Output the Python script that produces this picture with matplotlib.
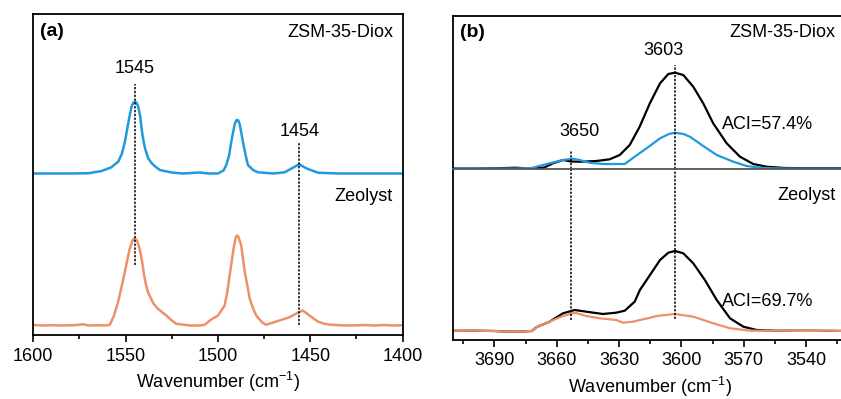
import matplotlib
matplotlib.use('Agg')
import matplotlib.pyplot as plt
from matplotlib.ticker import MultipleLocator

plt.rcParams['font.family'] = ['Liberation Sans', 'DejaVu Sans']
plt.rcParams['mathtext.fontset'] = 'custom'
plt.rcParams['mathtext.rm'] = 'Liberation Sans'

# ---- panel (a): pyridine IR, 1600-1400 cm-1
wn_a_blue = [1600, 1580, 1570, 1563, 1558, 1554, 1552, 1550.4, 1548.1, 1546.8, 1545.8, 1545,
             1544.2, 1543.2, 1542.2, 1540.9, 1539.5, 1537.8, 1536, 1534, 1531.5, 1525, 1519,
             1510, 1505, 1500, 1497, 1495.5, 1494, 1492.8, 1491, 1490.2, 1489.6, 1489,
             1488.2, 1486.5, 1485, 1483.8, 1481, 1478.4, 1470, 1463.9, 1459.4, 1456,
             1452.2, 1445.9, 1435, 1400]
ab_a_blue = [0, 0, 0.003, 0.025, 0.06, 0.118, 0.2, 0.318, 0.552, 0.67, 0.71, 0.718,
             0.71, 0.67, 0.58, 0.385, 0.25, 0.152, 0.105, 0.07, 0.035, 0.01, 0,
             0.01, 0, 0, 0.03, 0.085, 0.18, 0.318, 0.49, 0.53, 0.535, 0.53,
             0.49, 0.318, 0.18, 0.085, 0.035, 0.012, 0, 0.012, 0.058, 0.092,
             0.052, 0.008, 0, 0]

wn_a_orange = [1600, 1595, 1590, 1585, 1578, 1573, 1570, 1565, 1561, 1558.6, 1556.5, 1554.1,
               1552.3, 1550.5, 1547.8, 1546.3, 1545.1, 1543.9, 1542.4, 1541, 1540, 1539,
               1537.9, 1535, 1532.5, 1528, 1525, 1522.6, 1515, 1509.9, 1507.2, 1504.5, 1500,
               1496.4, 1495, 1493.7, 1491.3, 1490.3, 1489.6, 1488.9, 1487.4, 1485.5, 1484,
               1482.8, 1481, 1479.3, 1476, 1473.9, 1468.5, 1465, 1461.3, 1456.8, 1454.1,
               1450.5, 1446, 1442, 1438.7, 1430, 1420, 1415, 1410, 1405, 1400]
ab_a_orange = [0.005, 0, 0.003, 0, 0.003, 0.012, 0, 0.003, 0, 0.007, 0.09, 0.233,
               0.38, 0.533, 0.767, 0.85, 0.873, 0.85, 0.767, 0.63, 0.50, 0.41,
               0.333, 0.22, 0.167, 0.10, 0.05, 0.017, 0, 0, 0.007, 0.05, 0.10,
               0.20, 0.33, 0.50, 0.80, 0.885, 0.90, 0.885, 0.80, 0.533, 0.39,
               0.267, 0.17, 0.10, 0.03, 0.007, 0.04, 0.06, 0.083, 0.127, 0.15,
               0.10, 0.04, 0.015, 0.007, 0, 0.004, 0, 0.005, 0, 0.003]

offset_a_blue = 1.615
offset_a_orange = 0.095
peaks_a = [1545, 1456]
peak_labels_a = ['1545', '1454']

# ---- panel (b): OH region, 3710-3520 cm-1
wn_b_top_black = [3710, 3700, 3690, 3680, 3675, 3670, 3666, 3661.9, 3657, 3653, 3649, 3641,
                  3634.6, 3629.7, 3624.9, 3620.1, 3615.2, 3610.3, 3606.3, 3603.1, 3599.1,
                  3594.3, 3589.5, 3584.7, 3578.2, 3571.8, 3565.4, 3559, 3550, 3540, 3520]
ab_b_top_black = [0.005, 0.005, 0.007, 0.013, 0.008, 0.008, 0.015, 0.057, 0.09, 0.075, 0.073, 0.08,
                  0.097, 0.14, 0.24, 0.423, 0.657, 0.857, 0.95, 0.963, 0.94,
                  0.823, 0.657, 0.457, 0.257, 0.123, 0.05, 0.023, 0.01, 0.008, 0.008]

wn_b_top_blue = [3710, 3680, 3672, 3669.9, 3663.5, 3657, 3652.2, 3649, 3644.2, 3637.8, 3631.4,
                 3627.3, 3622.5, 3616.1, 3610.3, 3606, 3603.1, 3599, 3595.9, 3589.5, 3583,
                 3575, 3568.6, 3560.6, 3550, 3520]
ab_b_top_blue = [0.005, 0.005, 0.01, 0.023, 0.057, 0.09, 0.103, 0.09, 0.063, 0.05, 0.05,
                 0.05, 0.123, 0.217, 0.307, 0.35, 0.363, 0.35, 0.323, 0.23, 0.14,
                 0.073, 0.03, 0.01, 0.005, 0.005]

wn_b_bot_black = [3710, 3700, 3690, 3685, 3678, 3672, 3669.9, 3663.5, 3657, 3651.4, 3645.8,
                  3637.8, 3631.4, 3627.3, 3622.5, 3620, 3616.1, 3610.3, 3606.3, 3603.1, 3599.1,
                  3594.3, 3588.7, 3583, 3576.6, 3570.2, 3563.8, 3555, 3540, 3520]
ab_b_bot_black = [0.092, 0.093, 0.09, 0.085, 0.083, 0.09, 0.127, 0.183, 0.267, 0.30, 0.283,
                  0.26, 0.273, 0.293, 0.383, 0.50, 0.62, 0.80, 0.873, 0.89, 0.867,
                  0.767, 0.60, 0.40, 0.217, 0.133, 0.10, 0.093, 0.093, 0.09]

wn_b_bot_orange = [3710, 3700, 3690, 3685, 3678, 3672, 3669.9, 3663.5, 3657, 3651.4, 3645.8,
                   3639.4, 3631.4, 3628.2, 3623.3, 3620, 3616.1, 3611.9, 3603.1, 3594.3,
                   3584.7, 3576.6, 3567, 3550, 3540, 3530, 3520]
ab_b_bot_orange = [0.092, 0.093, 0.09, 0.085, 0.083, 0.09, 0.127, 0.183, 0.24, 0.273, 0.24,
                   0.217, 0.20, 0.173, 0.183, 0.20, 0.217, 0.24, 0.26, 0.233,
                   0.167, 0.117, 0.093, 0.093, 0.09, 0.093, 0.09]

peaks_b = [3653, 3603]
peak_labels_b = ['3650', '3603']
aci_labels = ['ACI=57.4%', 'ACI=69.7%']

blue = '#2299dd'
orange = '#ee9068'
fs = 13
dash = (0, (1.5, 1))

fig = plt.figure(figsize=(8.41, 3.99), dpi=100)
ax_a = fig.add_axes([0.0396, 0.1604, 0.4392, 0.8045])
ax_bt = fig.add_axes([0.5386, 0.5764, 0.4692, 0.3835])
ax_bb = fig.add_axes([0.5386, 0.1479, 0.4692, 0.4286])

def style_x(ax, major, minor):
    ax.xaxis.set_major_locator(MultipleLocator(major))
    ax.xaxis.set_minor_locator(MultipleLocator(minor))
    ax.tick_params(axis='x', which='major', direction='out', length=5, width=1.2,
                   labelsize=fs, pad=4)
    ax.tick_params(axis='x', which='minor', direction='out', length=3, width=1.2)
    ax.set_yticks([])
    ax.set_xlabel('Wavenumber (cm$^{\\mathregular{-1}}$)', fontsize=fs, labelpad=4)

# panel (a)
ax_a.plot(wn_a_blue, [v + offset_a_blue for v in ab_a_blue], color=blue, lw=1.8)
ax_a.plot(wn_a_orange, [v + offset_a_orange for v in ab_a_orange], color=orange, lw=1.8)
ax_a.set_xlim(1600, 1400)
ax_a.set_ylim(0, 3.21)
style_x(ax_a, 50, 25)
for s in ax_a.spines.values():
    s.set_linewidth(1.3)
ax_a.vlines(peaks_a[0], 0.70, 2.51, colors='k', linestyles=dash, lw=1.1)
ax_a.vlines(peaks_a[1], 0.10, 1.92, colors='k', linestyles=dash, lw=1.1)
ax_a.text(peaks_a[0], 2.665, peak_labels_a[0], fontsize=fs, ha='center', va='center')
ax_a.text(peaks_a[1], 2.04, peak_labels_a[1], fontsize=fs, ha='center', va='center')
ax_a.text(0.018, 0.944, '(a)', transform=ax_a.transAxes, fontsize=14, fontweight='bold',
          ha='left', va='center')
ax_a.text(0.974, 0.941, 'ZSM-35-Diox', transform=ax_a.transAxes, fontsize=fs,
          ha='right', va='center')
ax_a.text(0.974, 0.433, 'Zeolyst', transform=ax_a.transAxes, fontsize=fs,
          ha='right', va='center')

# panel (b) top
ax_bt.plot(wn_b_top_black, ab_b_top_black, color='k', lw=1.6)
ax_bt.plot(wn_b_top_blue, ab_b_top_blue, color=blue, lw=1.6)
ax_bt.set_xlim(3710, 3520)
ax_bt.set_ylim(0, 1.53)
ax_bt.set_xticks([])
ax_bt.set_yticks([])
ax_bt.spines['bottom'].set_visible(False)
for k in ['top', 'left', 'right']:
    ax_bt.spines[k].set_linewidth(1.3)
ax_bt.axvline(peaks_b[0], 0, 0.124, color='k', ls=dash, lw=1.1)
ax_bt.axvline(peaks_b[1], 0, 0.68, color='k', ls=dash, lw=1.1)
ax_bt.text(3648.9, 0.375, peak_labels_b[0], fontsize=fs, ha='center', va='center')
ax_bt.text(3608.4, 1.19, peak_labels_b[1], fontsize=fs, ha='center', va='center')
ax_bt.text(0.681, 0.288, aci_labels[0], transform=ax_bt.transAxes, fontsize=fs,
           ha='left', va='center')
ax_bt.text(0.018, 0.895, '(b)', transform=ax_bt.transAxes, fontsize=14, fontweight='bold',
           ha='left', va='center')
ax_bt.text(0.968, 0.895, 'ZSM-35-Diox', transform=ax_bt.transAxes, fontsize=fs,
           ha='right', va='center')

# panel (b) bottom
ax_bb.plot(wn_b_bot_black, ab_b_bot_black, color='k', lw=1.6)
ax_bb.plot(wn_b_bot_orange, ab_b_bot_orange, color=orange, lw=1.6)
ax_bb.set_xlim(3710, 3520)
ax_bb.set_ylim(0, 1.71)
style_x(ax_bb, 30, 15)
ax_bb.spines['top'].set_color('#555555')
ax_bb.spines['top'].set_linewidth(1.3)
for k in ['bottom', 'left', 'right']:
    ax_bb.spines[k].set_linewidth(1.3)
ax_bb.axvline(peaks_b[0], 0.117, 1, color='k', ls=dash, lw=1.1)
ax_bb.axvline(peaks_b[1], 0.123, 1, color='k', ls=dash, lw=1.1)
ax_bb.text(0.681, 0.224, aci_labels[1], transform=ax_bb.transAxes, fontsize=fs,
           ha='left', va='center')
ax_bb.text(0.971, 0.842, 'Zeolyst', transform=ax_bb.transAxes, fontsize=fs,
           ha='right', va='center')

fig.savefig('out.png', dpi=100)
